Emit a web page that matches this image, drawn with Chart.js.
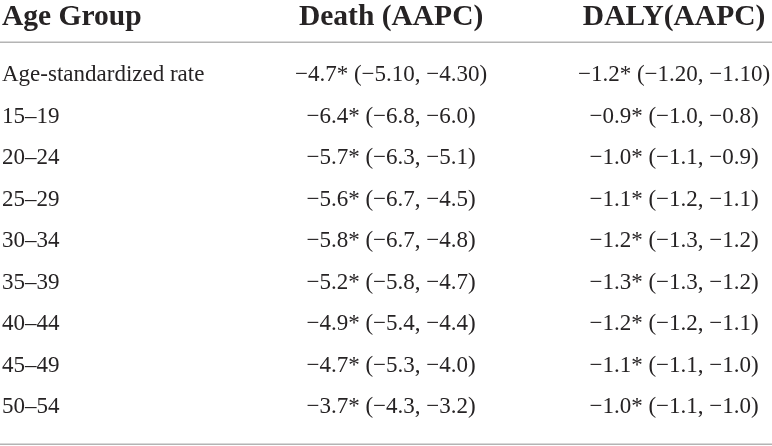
<!DOCTYPE html>
<html>
<head>
<meta charset="utf-8">
<script src="https://cdn.jsdelivr.net/npm/chart.js@4.4.1/dist/chart.umd.min.js"></script>
<style>
  html, body { margin: 0; padding: 0; background: #fff; }
  #wrap { width: 772px; height: 446px; position: relative; }
</style>
</head>
<body>
<div id="wrap"><canvas id="aapcTable"></canvas></div>
<script>
const headers = ['Age Group', 'Death (AAPC)', 'DALY(AAPC)'];
const ageGroups = ['Age-standardized rate', '15–19', '20–24', '25–29', '30–34', '35–39', '40–44', '45–49', '50–54'];
const deathAapc = [-4.7, -6.4, -5.7, -5.6, -5.8, -5.2, -4.9, -4.7, -3.7];
const deathLow = [-5.10, -6.8, -6.3, -6.7, -6.7, -5.8, -5.4, -5.3, -4.3];
const deathHigh = [-4.30, -6.0, -5.1, -4.5, -4.8, -4.7, -4.4, -4.0, -3.2];
const dalyAapc = [-1.2, -0.9, -1.0, -1.1, -1.2, -1.3, -1.2, -1.1, -1.0];
const dalyLow = [-1.20, -1.0, -1.1, -1.2, -1.3, -1.3, -1.2, -1.1, -1.1];
const dalyHigh = [-1.10, -0.8, -0.9, -1.1, -1.2, -1.2, -1.1, -1.0, -1.0];
const ciDecimals = [2, 1, 1, 1, 1, 1, 1, 1, 1];

function fmt(v, d) {
  const s = Math.abs(v).toFixed(d);
  return (v < 0 ? '\u2212' : '') + s;
}

function cellText(est, lo, hi, i) {
  return fmt(est[i], 1) + '* (' + fmt(lo[i], ciDecimals[i]) + ', ' + fmt(hi[i], ciDecimals[i]) + ')';
}

const deathCells = ageGroups.map((_, i) => cellText(deathAapc, deathLow, deathHigh, i));
const dalyCells = ageGroups.map((_, i) => cellText(dalyAapc, dalyLow, dalyHigh, i));

const serif = '"Liberation Serif", "DejaVu Serif", serif';
const textColor = '#262324';
const ruleColor = '#b4b4b4';
const headerRow = -1.38;
const ruleRows = [-0.8, 8.88];

// draws cell text at the positions the scales gave each (hidden) point
const tableText = {
  id: 'tableText',
  afterDatasetsDraw(chart) {
    const { ctx, chartArea, scales } = chart;
    ctx.save();

    ctx.strokeStyle = ruleColor;
    ctx.lineWidth = 1.5;
    ruleRows.forEach(r => {
      const y = Math.round(scales.y.getPixelForValue(r)) + 0.25;
      ctx.beginPath();
      ctx.moveTo(chartArea.left, y);
      ctx.lineTo(chartArea.right, y);
      ctx.stroke();
    });

    ctx.fillStyle = textColor;
    ctx.textBaseline = 'middle';
    ctx.font = 'bold 29.5px ' + serif;
    const hy = scales.y.getPixelForValue(headerRow);
    headers.forEach((h, c) => {
      const meta = chart.getDatasetMeta(c);
      ctx.textAlign = c === 0 ? 'left' : 'center';
      ctx.fillText(h, meta.data[0].x, hy);
    });

    ctx.font = '23px ' + serif;
    chart.data.datasets.forEach((ds, c) => {
      const meta = chart.getDatasetMeta(c);
      ctx.textAlign = c === 0 ? 'left' : 'center';
      meta.data.forEach((pt, i) => {
        ctx.fillText(ds.cells[i], pt.x, pt.y);
      });
    });
    ctx.restore();
  }
};

const xMin = -0.382;
const xMax = 2.346;

new Chart(document.getElementById('aapcTable'), {
  type: 'scatter',
  data: {
    datasets: [
      { label: headers[0], cells: ageGroups, data: ageGroups.map((_, i) => ({ x: xMin + 0.007, y: i })) },
      { label: headers[1], cells: deathCells, data: deathCells.map((_, i) => ({ x: 1, y: i })) },
      { label: headers[2], cells: dalyCells, data: dalyCells.map((_, i) => ({ x: 2, y: i })) }
    ]
  },
  options: {
    responsive: true,
    maintainAspectRatio: false,
    animation: false,
    layout: { padding: 0 },
    elements: { point: { radius: 0, hoverRadius: 0 } },
    plugins: { legend: { display: false }, tooltip: { enabled: false } },
    scales: {
      x: { type: 'linear', min: xMin, max: xMax, display: false },
      y: { type: 'linear', min: -1.81, max: 8.94, reverse: true, display: false }
    }
  },
  plugins: [tableText]
});
</script>
</body>
</html>
